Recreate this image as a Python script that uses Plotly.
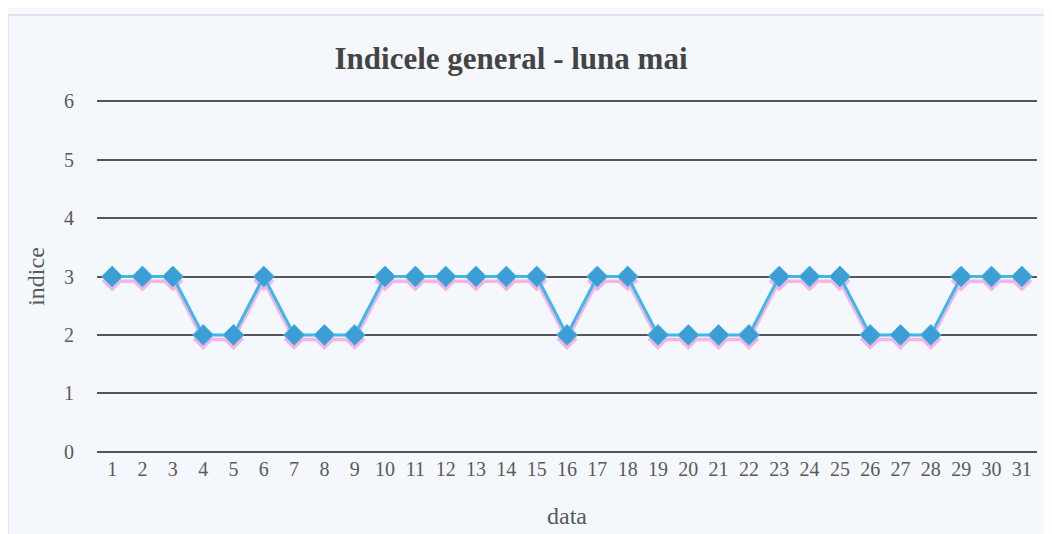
import plotly.graph_objects as go

days = [str(d) for d in range(1, 32)]
indice = [3, 3, 3, 2, 2, 3, 2, 2, 2, 3, 3, 3, 3, 3, 3, 2, 3, 3, 2, 2, 2, 2, 3, 3, 3, 2, 2, 2, 3, 3, 3]
y_ticks = [0, 1, 2, 3, 4, 5, 6]

W, H = 1052, 534
ml, mr, mt, mb = 89, 23, 92, 89

fig = go.Figure()
# pink shadow (same data, on the primary axis whose range is shifted slightly)
fig.add_trace(go.Scatter(
    x=days, y=indice, mode="lines+markers", yaxis="y",
    line=dict(color="#f4b4e4", width=3.5),
    marker=dict(symbol="diamond", size=16, color="#f4b4e4"),
    hoverinfo="skip", showlegend=False))
fig.add_trace(go.Scatter(
    x=days, y=indice, mode="lines+markers", yaxis="y2",
    line=dict(color="#3cb8ea", width=3),
    marker=dict(symbol="diamond", size=16, color="#3b9fd6",
                line=dict(color="#4ab4e6", width=1)),
    showlegend=False))

font_family = "Liberation Serif, Times New Roman, serif"
fig.update_layout(
    width=W, height=H,
    margin=dict(l=ml, r=mr, t=mt, b=mb),
    paper_bgcolor="#f4f7fc", plot_bgcolor="#f4f7fc",
    font=dict(family=font_family, color="#5a5a5a", size=20),
    title=dict(text="<b>Indicele general - luna mai</b>", x=503 / W, xanchor="center",
               y=1 - 50 / H, yanchor="middle",
               font=dict(family=font_family, size=31, color="#444444")),
    xaxis=dict(type="category", range=[-0.5, 30.5], showgrid=False, zeroline=False,
               showline=False, ticks="", tickfont=dict(size=20, color="#5a5a5a"),
               ticklabelstandoff=2,
               title=dict(text="data", font=dict(size=24, color="#5a5a5a"), standoff=28)),
    yaxis=dict(range=[0.06, 6.10], showgrid=False, zeroline=False, showline=False,
               showticklabels=False, ticks=""),
    yaxis2=dict(range=[-0.02, 6.02], overlaying="y", side="left",
                tickvals=y_ticks, showgrid=True, gridcolor="#555555",
                gridwidth=1.5, zeroline=False, showline=False, ticks="",
                ticklabelstandoff=22,
                tickfont=dict(size=20, color="#5a5a5a"),
                title=dict(text="indice", font=dict(size=24, color="#5a5a5a"), standoff=12)),
    shapes=[dict(type="rect", xref="paper", yref="paper",
                 x0=(0 - ml) / (W - ml - mr), x1=(1060 - ml) / (W - ml - mr),
                 y0=(H - mb - 540) / (H - mt - mb), y1=(H - mb - 7) / (H - mt - mb),
                 line=dict(color="#d8dce4", width=1.5), layer="below")],
)

fig.write_html("out.html")
